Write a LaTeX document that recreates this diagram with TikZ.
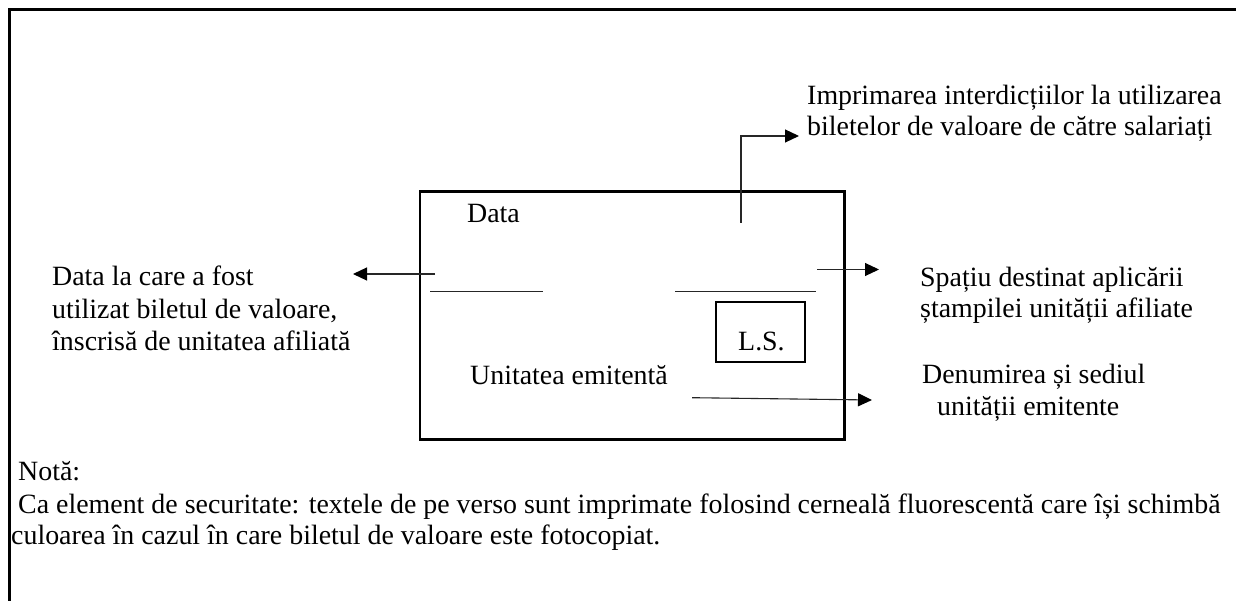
\documentclass[tikz,border=0pt]{standalone}
\usepackage{fontspec}
\setmainfont{Liberation Serif}
\usetikzlibrary{arrows.meta}
\tikzset{
  lab/.style={inner sep=0pt,anchor=base west,font=\fontsize{27.9}{32}\selectfont},
  frameline/.style={line width=2.6pt,black},
  thin line/.style={line width=1pt,black!85},
  arr/.style={line width=1.1pt,black!85,-{Triangle[length=14pt,width=13pt,fill=black,color=black]}},
}
\begin{document}
\begin{tikzpicture}[x=1pt,y=-1pt]
\useasboundingbox (0,0) rectangle (1236,601);
\draw[frameline] (9.5,601) -- (9.5,9.5) -- (1236,9.5);
\node[draw=black,line width=2.6pt,inner sep=0pt,minimum width=424.5pt,minimum height=248pt,anchor=north west] (card) at (418.5,190) {};
\node[draw=black,line width=2.4pt,inner sep=0pt,minimum width=89pt,minimum height=60pt,anchor=north west] (ls) at (714.5,301) {};
\node[lab] (lstext) at (738,351) {L.S.};
\node[lab] (data) at (467,223) {Data};
\node[lab] (emit) at (470,384.3) {Unitatea emitentă};
\coordinate (l1a) at (430,292); \coordinate (l1b) at (543,292);
\coordinate (l2a) at (675,292); \coordinate (l2b) at (816,292);
\draw[thin line] (l1a) -- (l1b);
\draw[thin line] (l2a) -- (l2b);
\node[lab] (t1a) at (807,105) {Imprimarea interdicțiilor la utilizarea};
\node[lab] (t1b) at (807,135.5) {biletelor de valoare de către salariați};
\node[lab] (t2a) at (52,286) {Data la care a fost};
\node[lab] (t2b) at (52,319) {utilizat biletul de valoare,};
\node[lab] (t2c) at (52,351) {înscrisă de unitatea afiliată};
\node[lab] (t3a) at (920,287) {Spațiu destinat aplicării};
\node[lab] (t3b) at (920,318) {ștampilei unității afiliate};
\node[lab] (t4a) at (922,383) {Denumirea și sediul};
\node[lab] (t4b) at (937,415) {unității emitente};
\node[lab] (n1) at (18,480) {Notă:};
\node[lab] (n2) at (18,513) {Ca element de securitate: textele de pe verso sunt imprimate folosind cerneală fluorescentă care își schimbă};
\node[lab] (n3) at (11,544) {culoarea în cazul în care biletul de valoare este fotocopiat.};
\coordinate (a1s) at (741,223); \coordinate (a1m) at (741,136); \coordinate (a1e) at (799,136);
\draw[arr] (a1s) -- (a1m) -- (a1e);
\coordinate (a2s) at (435,274); \coordinate (a2e) at (353,274);
\draw[arr] (a2s) -- (a2e);
\coordinate (a3s) at (817,269.5); \coordinate (a3e) at (879,269.5);
\draw[arr] (a3s) -- (a3e);
\coordinate (a4s) at (692,397.7); \coordinate (a4e) at (872,400);
\draw[arr] (a4s) -- (a4e);
\end{tikzpicture}
\end{document}
